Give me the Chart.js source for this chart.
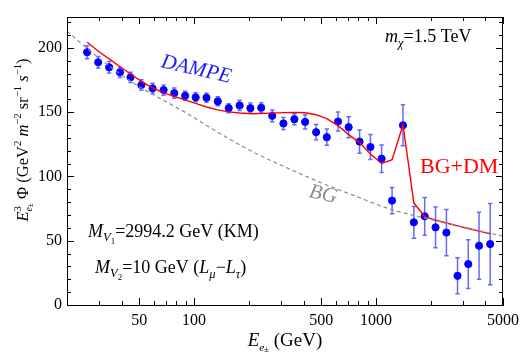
<!DOCTYPE html>
<html>
<head>
<meta charset="utf-8">
<script src="https://cdn.jsdelivr.net/npm/chart.js@4.4.1/dist/chart.umd.min.js"></script>
<style>
  html, body { margin: 0; padding: 0; background: #fff; }
</style>
</head>
<body>
<canvas id="myChart" width="525" height="353"></canvas>
<script>
const ctx = document.getElementById('myChart')

// DAMPE points (GeV, flux) and symmetric errors
const energies = [25.8, 29.7, 34.1, 39.1, 44.7, 51.3, 59.1, 68.0, 77.8, 89.3,
  102, 117, 135, 155, 178, 204, 234, 269, 310, 356,
  408, 469, 537, 619, 708, 813, 933, 1075, 1227, 1409,
  1617, 1855, 2128, 2442, 2811, 3221, 3692, 4252]
const flux = [196.6, 188.8, 184.9, 181, 177.1, 171.1, 168.5, 167.2, 164.8, 162.7,
  161.5, 161.2, 158.4, 153.1, 155.2, 153.1, 153.4, 147.1, 141.2, 144.5,
  142.4, 134.4, 130.5, 142.7, 138.3, 127.1, 122.9, 113.8, 81.2, 139.8,
  64.3, 69, 60.4, 56.3, 22.7, 31.8, 46.1, 47.4]
const fluxErr = [5, 4.5, 4.5, 4, 4, 4, 4, 4, 4, 3.5,
  3.5, 3.5, 3.5, 3.5, 4, 4, 4, 4.5, 4.7, 4.3,
  5.6, 5.9, 6.3, 7.4, 8.2, 9, 9.8, 10.7, 10.2, 15.9,
  12.4, 14.7, 15.8, 18, 14, 19, 26, 31.6]

// BG+DM curve
const bgdmE = [25.8, 30, 34.1, 39, 44.7, 51.3, 59, 68, 77.8, 89, 102, 117, 135, 155,
  178, 209, 269, 310, 356, 408, 469, 537, 619, 708, 813, 933, 1075, 1227, 1409,
  1617, 1855, 2128, 2442, 2811, 3221, 3692, 4252]
const bgdmFlux = [204.4, 197, 191.4, 185.5, 179.7, 174, 168.8, 165, 162.3, 159.5, 156.8, 154, 151.8, 150.2,
  149.3, 148.8, 149.2, 149.6, 149.8, 149.5, 148, 145, 139.5, 132.5, 126.3, 117.5, 110, 113, 140,
  79.4, 68.8, 66, 63.8, 61.5, 59.5, 57.5, 55.3]

// BG curve
const bgE = [20, 30, 46.6, 91, 138, 209, 318, 482, 764, 1206, 2255, 5000]
const bgFlux = [213, 192, 172.5, 149.2, 133.6, 119.3, 107.2, 96, 84.9, 74.5, 64.8, 53.5]

const xTicks = [20, 30, 40, 50, 60, 70, 80, 90, 100, 200, 300, 400, 500, 600, 700, 800, 900,
  1000, 2000, 3000, 4000, 5000]
const xLabels = [50, 100, 500, 1000, 5000]
const yTicks = [0, 10, 20, 30, 40, 50, 60, 70, 80, 90, 100, 110, 120, 130, 140, 150,
  160, 170, 180, 190, 200, 210, 220]
const yLabels = [0, 50, 100, 150, 200]

const SERIF = '"Liberation Serif", "DejaVu Serif", serif'

// draws text made of pieces: {t, it, s (size scale), dy (em offset), keep, endStack}
function richText(c, x, y, parts, size, color, doDraw) {
  let cx = x
  let stackEnd = 0
  for (const p of parts) {
    const s = size * (p.s || 1)
    c.font = (p.it ? 'italic ' : '') + s + 'px ' + SERIF
    const w = c.measureText(p.t).width
    if (doDraw) {
      c.fillStyle = color
      c.fillText(p.t, cx, y + (p.dy || 0) * size)
    }
    if (p.keep) {
      stackEnd = cx + w
    } else {
      cx += w
      if (p.endStack) cx = Math.max(cx, stackEnd)
    }
  }
  return cx - x
}

function drawRich(c, x, y, parts, size, color, align) {
  const w = richText(c, 0, 0, parts, size, color, false)
  let sx = x
  if (align === 'center') sx = x - w / 2
  richText(c, sx, y, parts, size, color, true)
}

const extras = {
  id: 'extras',
  beforeDatasetsDraw(chart) {
    const c = chart.ctx
    const xs = chart.scales.x
    const ys = chart.scales.y
    c.save()
    c.strokeStyle = 'rgba(40,40,255,0.7)'
    c.lineWidth = 1.5
    energies.forEach((e, i) => {
      const px = xs.getPixelForValue(e)
      const top = ys.getPixelForValue(flux[i] + fluxErr[i])
      const bot = ys.getPixelForValue(flux[i] - fluxErr[i])
      c.beginPath()
      c.moveTo(px, top)
      c.lineTo(px, bot)
      c.moveTo(px - 2.2, top)
      c.lineTo(px + 2.2, top)
      c.moveTo(px - 2.2, bot)
      c.lineTo(px + 2.2, bot)
      c.stroke()
    })
    c.restore()
  },
  afterDraw(chart) {
    const c = chart.ctx
    const a = chart.chartArea
    const xs = chart.scales.x
    const ys = chart.scales.y
    c.save()
    // frame
    c.strokeStyle = '#000'
    c.lineWidth = 1
    c.strokeRect(a.left + 0.5, a.top + 0.5, a.right - a.left - 1, a.bottom - a.top)
    // inward ticks on all four sides
    c.beginPath()
    xTicks.forEach(v => {
      const px = Math.round(xs.getPixelForValue(v)) + 0.5
      const len = xLabels.includes(v) ? 7 : 4
      c.moveTo(px, a.bottom)
      c.lineTo(px, a.bottom - len)
      c.moveTo(px, a.top)
      c.lineTo(px, a.top + len)
    })
    yTicks.forEach(v => {
      const py = Math.round(ys.getPixelForValue(v)) + 0.5
      const len = yLabels.includes(v) ? 7 : 4
      c.moveTo(a.left, py)
      c.lineTo(a.left + len, py)
      c.moveTo(a.right, py)
      c.lineTo(a.right - len, py)
    })
    c.stroke()

    c.textBaseline = 'alphabetic'
    // axis titles
    drawRich(c, (a.left + a.right) / 2, 346, [
      {t: 'E', it: 1}, {t: 'e', it: 1, s: 0.6, dy: 0.25}, {t: '±', s: 0.45, dy: 0.3},
      {t: ' (GeV)'}
    ], 19, '#000', 'center')

    c.save()
    c.translate(28, 140)
    c.rotate(-Math.PI / 2)
    drawRich(c, 0, 0, [
      {t: 'E', it: 1}, {t: '3', s: 0.65, dy: -0.4, keep: 1},
      {t: 'e', it: 1, s: 0.6, dy: 0.25}, {t: '±', s: 0.45, dy: 0.3, endStack: 1},
      {t: ' Φ (GeV'}, {t: '2', s: 0.65, dy: -0.4}, {t: ' '}, {t: 'm', it: 1},
      {t: '−2', s: 0.65, dy: -0.4}, {t: ' sr'}, {t: '−1', s: 0.65, dy: -0.4},
      {t: ' '}, {t: 's', it: 1}, {t: '−1', s: 0.65, dy: -0.4}, {t: ')'}
    ], 16.5, '#000', 'center')
    c.restore()

    // annotations
    drawRich(c, 385, 42, [
      {t: 'm', it: 1}, {t: 'χ', it: 1, s: 0.7, dy: 0.25}, {t: '=1.5 TeV'}
    ], 18, '#000')
    drawRich(c, 88, 237, [
      {t: 'M', it: 1}, {t: 'V', it: 1, s: 0.7, dy: 0.22}, {t: '1', s: 0.5, dy: 0.38},
      {t: '=2994.2 GeV (KM)'}
    ], 18, '#000')
    drawRich(c, 95, 273, [
      {t: 'M', it: 1}, {t: 'V', it: 1, s: 0.7, dy: 0.22}, {t: '2', s: 0.5, dy: 0.38},
      {t: '=10 GeV ('}, {t: 'L', it: 1}, {t: 'μ', it: 1, s: 0.7, dy: 0.25},
      {t: '−'}, {t: 'L', it: 1}, {t: 'τ', it: 1, s: 0.7, dy: 0.25}, {t: ')'}
    ], 18, '#000')
    drawRich(c, 420, 173, [{t: 'BG+DM'}], 22, '#ff0000')

    c.save()
    c.translate(195, 75)
    c.rotate(13 * Math.PI / 180)
    drawRich(c, 0, 0, [{t: 'DAMPE', it: 1}], 21, '#1a1aff', 'center')
    c.restore()

    c.save()
    c.translate(322, 200)
    c.rotate(12 * Math.PI / 180)
    drawRich(c, 0, 0, [{t: 'BG', it: 1}], 21, '#8c8c8c', 'center')
    c.restore()
    c.restore()
  }
}

new Chart(ctx, {
  data: {
    datasets: [
      {
        type: 'line',
        label: 'BG',
        data: bgE.map((x, i) => ({x: x, y: bgFlux[i]})),
        borderColor: '#8c8c8c',
        borderWidth: 1.2,
        borderDash: [4, 3],
        pointRadius: 0,
        cubicInterpolationMode: 'monotone',
      },
      {
        type: 'line',
        label: 'BG+DM',
        data: bgdmE.map((x, i) => ({x: x, y: bgdmFlux[i]})),
        borderColor: '#ff0000',
        borderWidth: 1.4,
        pointRadius: 0,
        tension: 0,
      },
      {
        type: 'scatter',
        label: 'DAMPE',
        data: energies.map((x, i) => ({x: x, y: flux[i]})),
        backgroundColor: '#0000ff',
        borderColor: '#0000ff',
        pointRadius: 3.6,
      },
    ],
  },
  options: {
    responsive: false,
    animation: false,
    layout: { padding: { top: 17, right: 18, left: 0, bottom: 0 } },
    plugins: { legend: { display: false }, tooltip: { enabled: false } },
    scales: {
      x: {
        type: 'logarithmic',
        min: 20,
        max: 5000,
        grid: { drawOnChartArea: false, drawTicks: false },
        border: { color: '#000' },
        afterBuildTicks: (scale) => { scale.ticks = xTicks.map(v => ({value: v})) },
        afterFit: (scale) => { scale.height = 48 },
        ticks: {
          autoSkip: false,
          maxRotation: 0,
          padding: 6,
          color: '#000',
          font: { family: SERIF, size: 16 },
          callback: (v) => xLabels.includes(v) ? String(v) : '',
        },
      },
      y: {
        min: 0,
        max: 224,
        grid: { drawOnChartArea: false, drawTicks: false },
        border: { color: '#000' },
        afterBuildTicks: (scale) => { scale.ticks = yTicks.map(v => ({value: v})) },
        afterFit: (scale) => { scale.width = 67 },
        ticks: {
          autoSkip: false,
          padding: 5,
          color: '#000',
          font: { family: SERIF, size: 16 },
          callback: (v) => yLabels.includes(v) ? String(v) : '',
        },
      },
    },
  },
  plugins: [extras],
})
</script>
</body>
</html>
